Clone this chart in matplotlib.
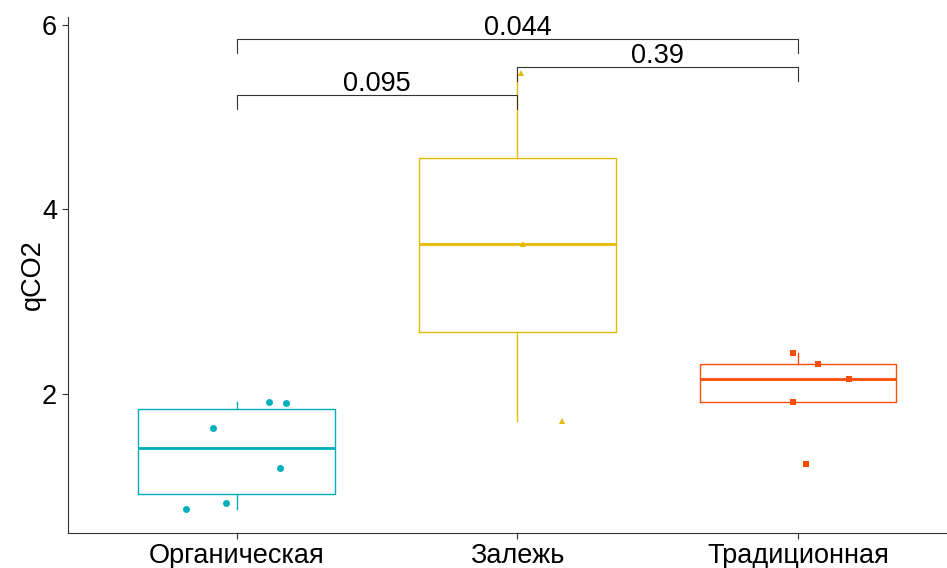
import matplotlib
matplotlib.use('Agg')
import matplotlib.pyplot as plt

plt.rcParams['font.family'] = ['Liberation Sans', 'DejaVu Sans']

# data
groups = ['Органическая', 'Залежь', 'Традиционная']
organic = [1.91, 1.90, 1.635, 1.20, 0.82, 0.75]
fallow = [5.48, 3.625, 1.71]
traditional = [2.444, 2.322, 2.163, 1.913, 1.241]
# horizontal jitter of the points (group units)
organic_jitter = [0.114, 0.174, -0.085, 0.153, -0.037, -0.181]
fallow_jitter = [0.013, 0.018, 0.158]
traditional_jitter = [-0.02, 0.07, 0.18, -0.02, 0.027]

comparisons = [(1, 2), (2, 3), (1, 3)]
p_labels = ['0.095', '0.39', '0.044']
bracket_y = [5.238, 5.541, 5.845]

colors = ['#00AFBB', '#E7B800', '#FC4E07']
markers = ['o', '^', 's']
values = [organic, fallow, traditional]
jitters = [organic_jitter, fallow_jitter, traditional_jitter]

FS = 19.5

fig = plt.figure(figsize=(9.47, 5.68), dpi=100)
ax = fig.add_axes([68.3 / 947, 34.7 / 568, (947 - 68.3) / 947, (533.3 - 16.6) / 568])

for i, (vals, col) in enumerate(zip(values, colors)):
    pos = i + 1
    ax.boxplot(vals, positions=[pos], widths=0.7, showfliers=False, showcaps=False,
               boxprops=dict(color=col, linewidth=1.0),
               whiskerprops=dict(color=col, linewidth=1.0),
               medianprops=dict(color=col, linewidth=2.0))
    xs = [pos + j for j in jitters[i]]
    ax.plot(xs, vals, linestyle='none', marker=markers[i], color=col,
            markersize=5 if markers[i] != 's' else 4.6, markeredgewidth=0, zorder=3)

# significance brackets
tip = 0.145
for (a, b), lab, y in zip(comparisons, p_labels, bracket_y):
    ax.plot([a, a, b, b], [y - tip, y, y, y - tip], color='#333333', linewidth=0.8, zorder=4)
    ax.text((a + b) / 2, y + 0.05, lab, ha='center', va='baseline', fontsize=FS)

ax.set_xlim(0.4, 3.53)
ax.set_ylim(0.49, 6.09)
ax.set_xticks([1, 2, 3])
ax.set_xticklabels(groups, fontsize=FS)
ax.set_yticks([2, 4, 6])
ax.tick_params(axis='y', labelsize=FS, length=4, width=0.8, color='#333333', pad=4)
ax.tick_params(axis='x', length=4, width=0.8, color='#333333', pad=3)
ax.set_ylabel('qCO2', fontsize=FS, labelpad=-3)

for side in ['top', 'right']:
    ax.spines[side].set_visible(False)
for side in ['left', 'bottom']:
    ax.spines[side].set_color('#333333')
    ax.spines[side].set_linewidth(0.8)

fig.savefig('out.png', dpi=100)
